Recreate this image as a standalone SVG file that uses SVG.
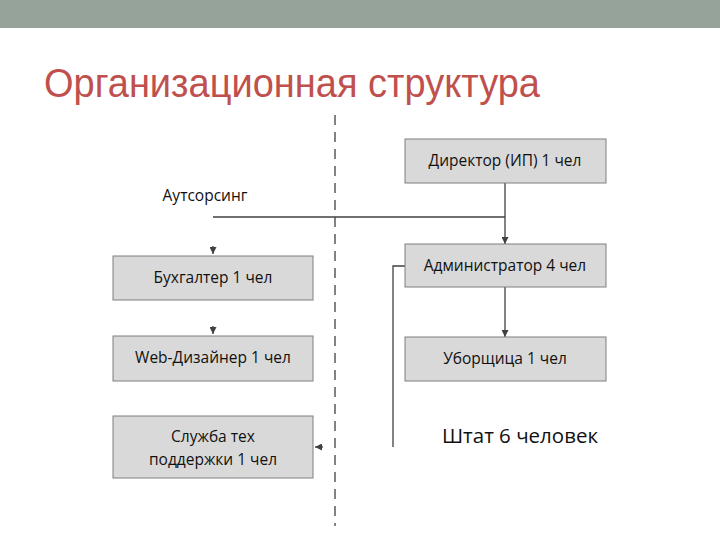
<svg xmlns="http://www.w3.org/2000/svg" width="720" height="540" viewBox="0 0 720 540">
<defs>
<marker id="ah" viewBox="0 0 10 10" refX="10" refY="5" markerWidth="7" markerHeight="7" orient="auto" markerUnits="userSpaceOnUse"><path d="M0,0 L10,5 L0,10 z" fill="#404040"/></marker>
<style>
.box{fill:#d9d9d9;stroke:#7f7f7f;stroke-width:1}
.lbl{font-family:"Open Sans","Liberation Sans",sans-serif;font-size:15.5px;fill:#111111;text-anchor:middle}
.ln{stroke:#404040;stroke-width:1.3;fill:none}
</style>
</defs>
<rect x="0" y="0" width="720" height="540" fill="#ffffff"/>
<rect x="0" y="0" width="720" height="28" fill="#95a39a"/>
<text x="44" y="97" font-family="Liberation Sans, Arial, sans-serif" font-size="41" fill="#c0504d" textLength="496" lengthAdjust="spacingAndGlyphs">Организационная структура</text>
<g id="connectors">
<line x1="335" y1="115" x2="335" y2="526" stroke="#404040" stroke-width="1.3" stroke-dasharray="10,7"/>
<line class="ln" x1="213" y1="217" x2="505" y2="217"/>
<line class="ln" x1="505" y1="183" x2="505" y2="244" marker-end="url(#ah)"/>
<line class="ln" x1="505" y1="287" x2="505" y2="337" marker-end="url(#ah)"/>
<polyline class="ln" points="405,266 393,266 393,447"/>
<line class="ln" x1="213" y1="246" x2="213" y2="254" stroke="none" marker-end="url(#ah)"/>
<line class="ln" x1="213" y1="326" x2="213" y2="334" stroke="none" marker-end="url(#ah)"/>
<line class="ln" x1="323" y1="447" x2="315" y2="447" stroke="none" marker-end="url(#ah)"/>
</g>
<g id="outsourcing"><text x="205" y="201" class="lbl">Аутсорсинг</text></g>
<g id="director"><rect class="box" x="405" y="139" width="201" height="44"/><text x="505" y="166" class="lbl">Директор (ИП) 1 чел</text></g>
<g id="admin"><rect class="box" x="405" y="244" width="201" height="43"/><text x="505" y="271" class="lbl">Администратор 4 чел</text></g>
<g id="cleaner"><rect class="box" x="405" y="337" width="201" height="44"/><text x="505" y="364" class="lbl">Уборщица 1 чел</text></g>
<g id="accountant"><rect class="box" x="113" y="256" width="200" height="44"/><text x="213" y="283" class="lbl">Бухгалтер 1 чел</text></g>
<g id="webdesigner"><rect class="box" x="113" y="336" width="200" height="45"/><text x="213" y="363" class="lbl">Web-Дизайнер 1 чел</text></g>
<g id="support"><rect class="box" x="113" y="416" width="200" height="62"/><text x="213" y="442" class="lbl">Служба тех</text><text x="213" y="465" class="lbl">поддержки 1 чел</text></g>
<g id="staff"><text x="520" y="443" font-family="Open Sans, Liberation Sans, sans-serif" font-size="20.5" fill="#111111" text-anchor="middle">Штат 6 человек</text></g>
</svg>
